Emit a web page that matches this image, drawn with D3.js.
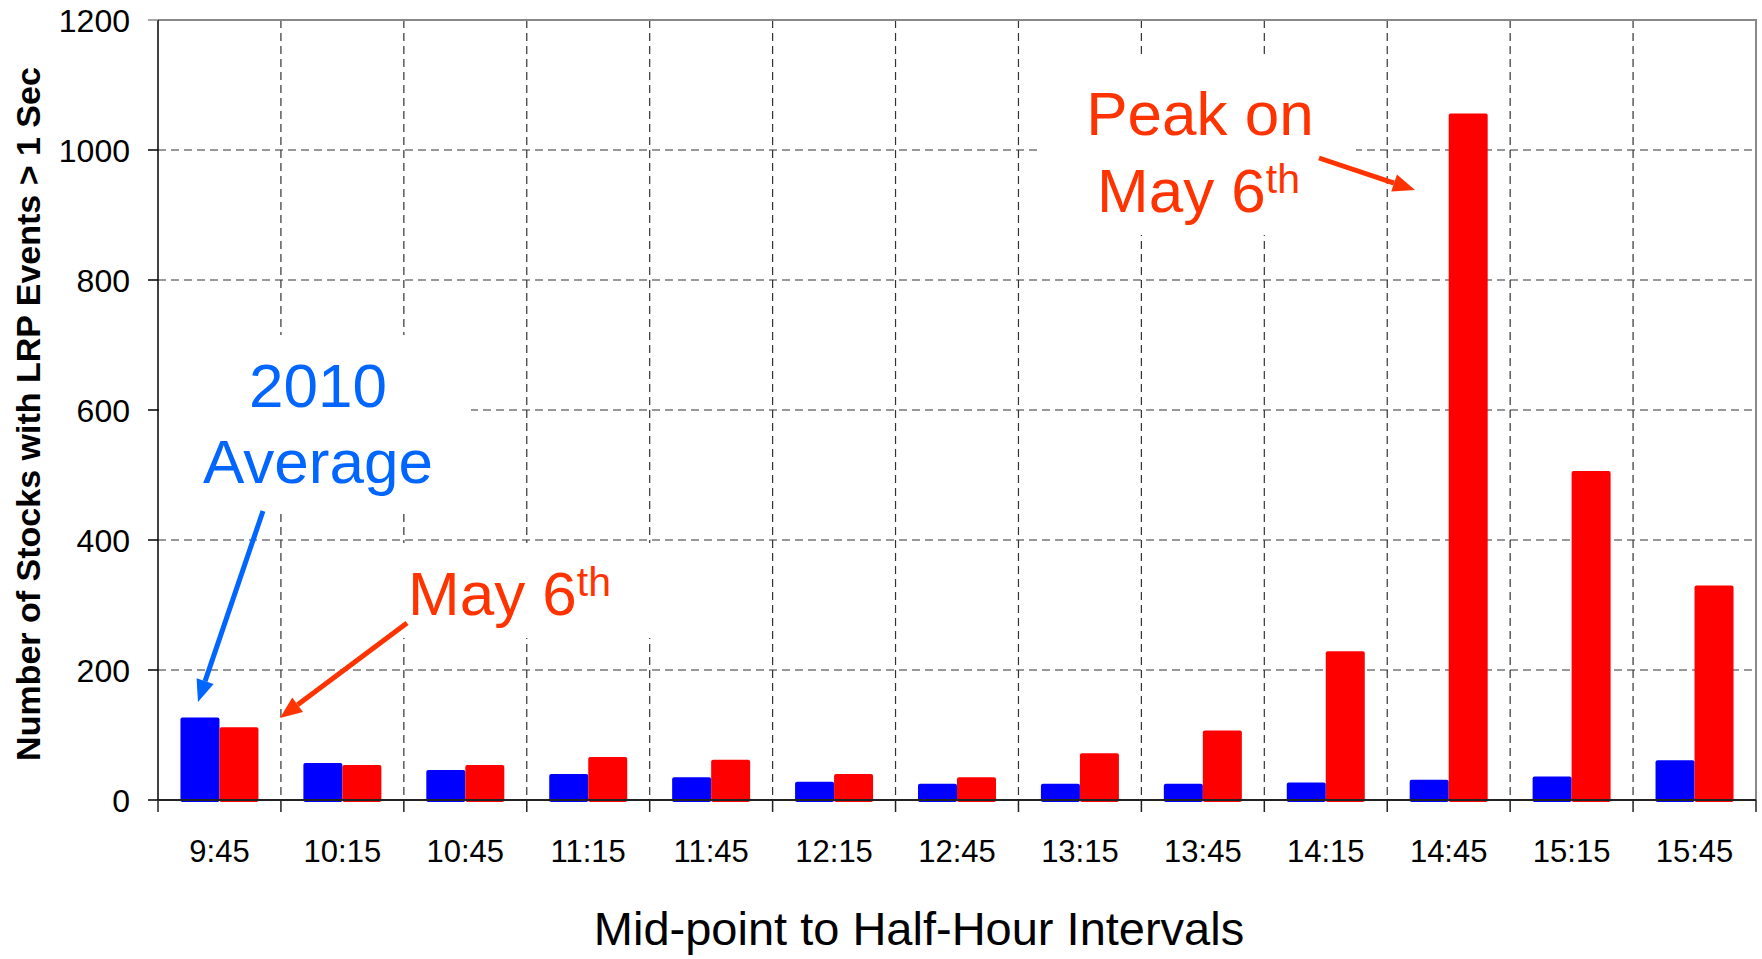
<!DOCTYPE html>
<html>
<head>
<meta charset="utf-8">
<script src="https://cdn.jsdelivr.net/npm/d3@7"></script>
<style>
  body { margin: 0; background: #fff; }
  text { font-family: "Liberation Sans", Arial, sans-serif; }
</style>
</head>
<body>
<div id="chart"></div>
<script>
const width = 1762;
const height = 959;

const times = ["9:45", "10:15", "10:45", "11:15", "11:45", "12:15", "12:45",
  "13:15", "13:45", "14:15", "14:45", "15:15", "15:45"];
const avg2010 = [127, 57, 46, 40, 35, 28, 25, 25, 25, 27, 31, 36, 61];
const may6 = [112, 54, 54, 66, 62, 40, 35, 72, 107, 229, 1056, 506, 330];
const yTicks = [0, 200, 400, 600, 800, 1000, 1200];

const plotLeft = 158, plotRight = 1756, plotTop = 20, plotBottom = 800;

const svg = d3.select("#chart").append("svg")
  .attr("width", width)
  .attr("height", height);

const x0 = d3.scaleBand().domain(times).range([plotLeft, plotRight]);
const x1 = d3.scaleBand().domain(["avg", "may"]).range([0, x0.bandwidth()])
  .paddingInner(0).paddingOuter(0.576);
const y = d3.scaleLinear().domain([0, 1200]).range([plotBottom, plotTop]);

const boundaries = times.map(t => x0(t)).concat([plotRight]);

// grid lines
svg.append("g").selectAll("line")
  .data(yTicks.filter(d => d > 0 && d < 1200))
  .join("line")
  .attr("x1", plotLeft).attr("x2", plotRight)
  .attr("y1", d => y(d)).attr("y2", d => y(d))
  .attr("stroke", "#333").attr("stroke-width", 1.2)
  .attr("stroke-dasharray", "8,5");

svg.append("g").selectAll("line")
  .data(boundaries.slice(1, -1))
  .join("line")
  .attr("x1", d => d).attr("x2", d => d)
  .attr("y1", plotTop).attr("y2", plotBottom)
  .attr("stroke", "#333").attr("stroke-width", 1.2)
  .attr("stroke-dasharray", "8,5");

// frame: top and right in grey
svg.append("path")
  .attr("d", `M${plotLeft},${plotTop}H${plotRight}V${plotBottom}`)
  .attr("fill", "none").attr("stroke", "#888").attr("stroke-width", 2);

// white boxes behind annotation text (they cut the grid)
const boxes = [[159, 335, 312, 175], [396, 543, 264, 95], [1042, 58, 314, 177]];
svg.append("g").selectAll("rect")
  .data(boxes)
  .join("rect")
  .attr("x", d => d[0]).attr("y", d => d[1])
  .attr("width", d => d[2]).attr("height", d => d[3])
  .attr("fill", "#fff");

// bars
const groups = svg.append("g").selectAll("g")
  .data(times.map((t, i) => ({ t, avg: avg2010[i], may: may6[i] })))
  .join("g")
  .attr("transform", d => `translate(${x0(d.t)},0)`);

groups.selectAll("rect")
  .data(d => [{ k: "avg", v: d.avg }, { k: "may", v: d.may }])
  .join("rect")
  .attr("x", d => x1(d.k))
  .attr("y", d => y(d.v))
  .attr("width", x1.bandwidth())
  .attr("height", d => y(0) - y(d.v) + 2)
  .attr("rx", 2)
  .attr("fill", d => d.k === "avg" ? "#0000ff" : "#ff0000");

// axes
svg.append("line")
  .attr("x1", plotLeft).attr("x2", plotLeft).attr("y1", plotTop).attr("y2", plotBottom)
  .attr("stroke", "#000").attr("stroke-width", 1.5);
svg.append("line")
  .attr("x1", plotLeft).attr("x2", plotRight).attr("y1", plotBottom).attr("y2", plotBottom)
  .attr("stroke", "#222").attr("stroke-width", 2);

svg.append("g").selectAll("line")
  .data(yTicks)
  .join("line")
  .attr("x1", plotLeft - 10).attr("x2", plotLeft)
  .attr("y1", d => y(d)).attr("y2", d => y(d))
  .attr("stroke", d => d === 1200 ? "#888" : "#000").attr("stroke-width", 1.5);

svg.append("g").selectAll("line")
  .data(boundaries)
  .join("line")
  .attr("x1", d => d).attr("x2", d => d)
  .attr("y1", plotBottom).attr("y2", plotBottom + 12)
  .attr("stroke", "#222").attr("stroke-width", 1.5);

svg.append("g").selectAll("text")
  .data(yTicks)
  .join("text")
  .attr("x", 130)
  .attr("y", d => y(d))
  .attr("dy", "0.36em")
  .attr("text-anchor", "end")
  .attr("font-size", 32)
  .text(d => d);

svg.append("g").selectAll("text")
  .data(times)
  .join("text")
  .attr("x", d => x0(d) + x0.bandwidth() / 2)
  .attr("y", 862)
  .attr("text-anchor", "middle")
  .attr("font-size", 31)
  .text(d => d);

// axis titles
svg.append("text")
  .attr("x", 919).attr("y", 945)
  .attr("text-anchor", "middle")
  .attr("font-size", 47)
  .text("Mid-point to Half-Hour Intervals");

svg.append("text")
  .attr("transform", "translate(40,414) rotate(-90)")
  .attr("text-anchor", "middle")
  .attr("font-size", 34)
  .attr("font-weight", "bold")
  .text("Number of Stocks with LRP Events > 1 Sec");

// annotations
const blue = "#0066ff", orange = "#ff3300";

function arrow(xa, ya, xb, yb, color) {
  const ang = Math.atan2(yb - ya, xb - xa);
  const len = 22, half = 9;
  const bx = xb - len * Math.cos(ang), by = yb - len * Math.sin(ang);
  svg.append("line")
    .attr("x1", xa).attr("y1", ya).attr("x2", bx).attr("y2", by)
    .attr("stroke", color).attr("stroke-width", 5);
  const px = -Math.sin(ang) * half, py = Math.cos(ang) * half;
  svg.append("path")
    .attr("d", `M${xb},${yb}L${bx + px},${by + py}L${bx - px},${by - py}Z`)
    .attr("fill", color);
}

svg.append("text").attr("x", 318).attr("y", 407)
  .attr("text-anchor", "middle").attr("font-size", 62).attr("fill", blue)
  .text("2010");
svg.append("text").attr("x", 318).attr("y", 483)
  .attr("text-anchor", "middle").attr("font-size", 62).attr("fill", blue)
  .text("Average");
arrow(263, 511, 198, 702, blue);

const mayLabel = svg.append("text").attr("x", 408).attr("y", 615)
  .attr("font-size", 62).attr("fill", orange);
mayLabel.append("tspan").text("May 6");
mayLabel.append("tspan").attr("font-size", 41).attr("dy", -19).text("th");
arrow(407, 623, 280, 718, orange);

svg.append("text").attr("x", 1200).attr("y", 135)
  .attr("text-anchor", "middle").attr("font-size", 62).attr("fill", orange)
  .text("Peak on");
const peakLabel = svg.append("text").attr("x", 1097).attr("y", 212)
  .attr("font-size", 62).attr("fill", orange);
peakLabel.append("tspan").text("May 6");
peakLabel.append("tspan").attr("font-size", 41).attr("dy", -19).text("th");
arrow(1319, 158, 1415, 190, orange);
</script>
</body>
</html>
